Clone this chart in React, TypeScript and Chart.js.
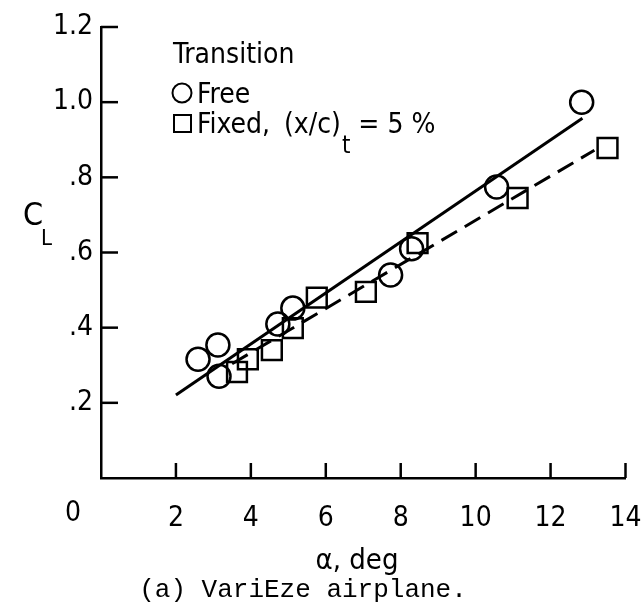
import React, { useEffect, useRef } from 'react';
import { Chart, registerables } from 'chart.js';

Chart.register(...registerables);

// ---- data ----
const freeAlpha = [2.59, 3.12, 3.15, 4.72, 5.12, 7.73, 8.29, 10.56, 12.83];
const freeCL = [0.316, 0.354, 0.271, 0.41, 0.452, 0.54, 0.61, 0.774, 1.0];

const fixedAlpha = [3.63, 3.92, 4.56, 5.12, 5.76, 7.07, 8.45, 11.12, 13.52];
const fixedCL = [0.282, 0.316, 0.34, 0.399, 0.48, 0.495, 0.625, 0.745, 0.878];

const freeFitAlpha = [2.0, 12.85];
const freeFitCL = [0.221, 0.957];

const fixedFitAlpha = [3.5, 13.17];
const fixedFitCL = [0.304, 0.872];

const xMin = 0;
const xMax = 14;
const xStep = 2;
const yMin = 0;
const yMax = 1.2;
const yStep = 0.2;

const legendTitle = 'Transition';
const legendFree = 'Free';
const legendFixed = 'Fixed,';
const legendFixedParam = '(x/c)';
const legendFixedSub = 't';
const legendFixedValue = '= 5 %';
const xTitle = 'α, deg';
const yTitleMain = 'C';
const yTitleSub = 'L';
const caption = '(a) VariEze airplane.';
const originLabel = '0';

const SANS = '"Liberation Sans Narrow", "DejaVu Sans Condensed", "Liberation Sans", sans-serif';
const MONO = '"Liberation Mono", "DejaVu Sans Mono", monospace';

const zip = (xs: number[], ys: number[]) => xs.map((x, i) => ({ x, y: ys[i] }));

const decorPlugin = {
  id: 'decor',
  afterDraw(chart: any) {
    const { ctx, chartArea: a, scales } = chart;
    const x = scales.x;
    const y = scales.y;
    ctx.save();
    ctx.strokeStyle = '#000';
    ctx.fillStyle = '#000';
    ctx.lineWidth = 2.5;
    // inward tick marks
    y.ticks.forEach((t: any) => {
      if (t.value === 0) return;
      const py = y.getPixelForValue(t.value);
      ctx.beginPath();
      ctx.moveTo(a.left, py);
      ctx.lineTo(a.left + 17, py);
      ctx.stroke();
    });
    x.ticks.forEach((t: any) => {
      if (t.value === 0) return;
      const px = x.getPixelForValue(t.value);
      ctx.beginPath();
      ctx.moveTo(px, a.bottom);
      ctx.lineTo(px, a.bottom - 15);
      ctx.stroke();
    });

    ctx.textBaseline = 'alphabetic';
    // origin label
    ctx.font = `28px ${SANS}`;
    ctx.textAlign = 'center';
    ctx.fillText(originLabel, a.left - 28, a.bottom + 43);

    // x title
    ctx.font = `29px ${SANS}`;
    ctx.fillText(xTitle, 357, 569);

    // y title
    ctx.textAlign = 'left';
    ctx.font = `32px ${SANS}`;
    ctx.fillText(yTitleMain, 23, 225);
    ctx.font = `22px ${SANS}`;
    ctx.fillText(yTitleSub, 41, 245);

    // caption
    ctx.textAlign = 'center';
    ctx.font = `26px ${MONO}`;
    ctx.fillText(caption, 303, 597);

    // legend
    ctx.textAlign = 'left';
    ctx.font = `28px ${SANS}`;
    const lx = 173;
    ctx.fillText(legendTitle, lx, 63);
    ctx.lineWidth = 2;
    ctx.beginPath();
    ctx.arc(lx + 9, 93, 9.5, 0, Math.PI * 2);
    ctx.stroke();
    ctx.fillText(legendFree, lx + 24, 103);
    ctx.strokeRect(lx + 1, 115, 17, 17);
    let tx = lx + 24;
    ctx.fillText(legendFixed, tx, 133);
    tx += ctx.measureText(legendFixed).width + 14;
    ctx.fillText(legendFixedParam, tx, 133);
    tx += ctx.measureText(legendFixedParam).width + 1;
    ctx.font = `24px ${SANS}`;
    ctx.fillText(legendFixedSub, tx, 153);
    tx += ctx.measureText(legendFixedSub).width + 8;
    ctx.font = `28px ${SANS}`;
    ctx.fillText(legendFixedValue, tx, 133);
    ctx.restore();
  },
};

export default function App() {
  const ref = useRef<HTMLCanvasElement | null>(null);
  useEffect(() => {
    if (!ref.current) return;
    const chart = new Chart(ref.current, {
      type: 'scatter',
      data: {
        datasets: [
          {
            label: 'Free fit',
            data: zip(freeFitAlpha, freeFitCL),
            showLine: true,
            borderColor: '#000',
            borderWidth: 3,
            pointRadius: 0,
            fill: false,
          },
          {
            label: 'Fixed fit',
            data: zip(fixedFitAlpha, fixedFitCL),
            showLine: true,
            borderColor: '#000',
            borderWidth: 3,
            borderDash: [18, 9],
            pointRadius: 0,
            fill: false,
          },
          {
            label: 'Free',
            data: zip(freeAlpha, freeCL),
            pointStyle: 'circle',
            pointRadius: 11.5,
            borderColor: '#000',
            backgroundColor: 'rgba(0,0,0,0)',
            borderWidth: 2.5,
          },
          {
            label: 'Fixed',
            data: zip(fixedAlpha, fixedCL),
            pointStyle: 'rect',
            pointRadius: 14,
            borderColor: '#000',
            backgroundColor: 'rgba(0,0,0,0)',
            borderWidth: 2.5,
          },
        ],
      },
      options: {
        animation: false,
        responsive: true,
        maintainAspectRatio: false,
        layout: { padding: { top: 27, right: 16, left: 0, bottom: 0 } },
        plugins: {
          legend: { display: false },
          tooltip: { enabled: false },
        },
        scales: {
          x: {
            type: 'linear',
            min: xMin,
            max: xMax,
            ticks: {
              stepSize: xStep,
              color: '#000',
              padding: 24,
              font: { family: SANS, size: 28 },
              callback: (v: any) => (Number(v) === 0 ? '' : String(v)),
              maxRotation: 0,
            },
            grid: { display: false, drawTicks: false },
            border: { display: true, color: '#000', width: 2.5 },
            afterFit: (axis: any) => {
              axis.height = 130;
              axis.paddingLeft = 0;
              axis.paddingRight = 0;
            },
          },
          y: {
            type: 'linear',
            min: yMin,
            max: yMax,
            ticks: {
              stepSize: yStep,
              color: '#000',
              padding: 8,
              font: { family: SANS, size: 28 },
              callback: (v: any) => {
                const n = Number(v);
                if (Math.abs(n) < 1e-9) return '';
                const s = n.toFixed(1);
                return n < 1 ? s.replace(/^0/, '') : s;
              },
            },
            grid: { display: false, drawTicks: false },
            border: { display: true, color: '#000', width: 2.5 },
            afterFit: (axis: any) => {
              axis.width = 101;
              axis.paddingTop = 0;
              axis.paddingBottom = 0;
            },
          },
        },
      },
      plugins: [decorPlugin],
    });
    return () => chart.destroy();
  }, []);

  return (
    <div style={{ position: 'fixed', left: 0, top: 0, width: 642, height: 608, background: '#fff' }}>
      <canvas ref={ref} />
    </div>
  );
}
